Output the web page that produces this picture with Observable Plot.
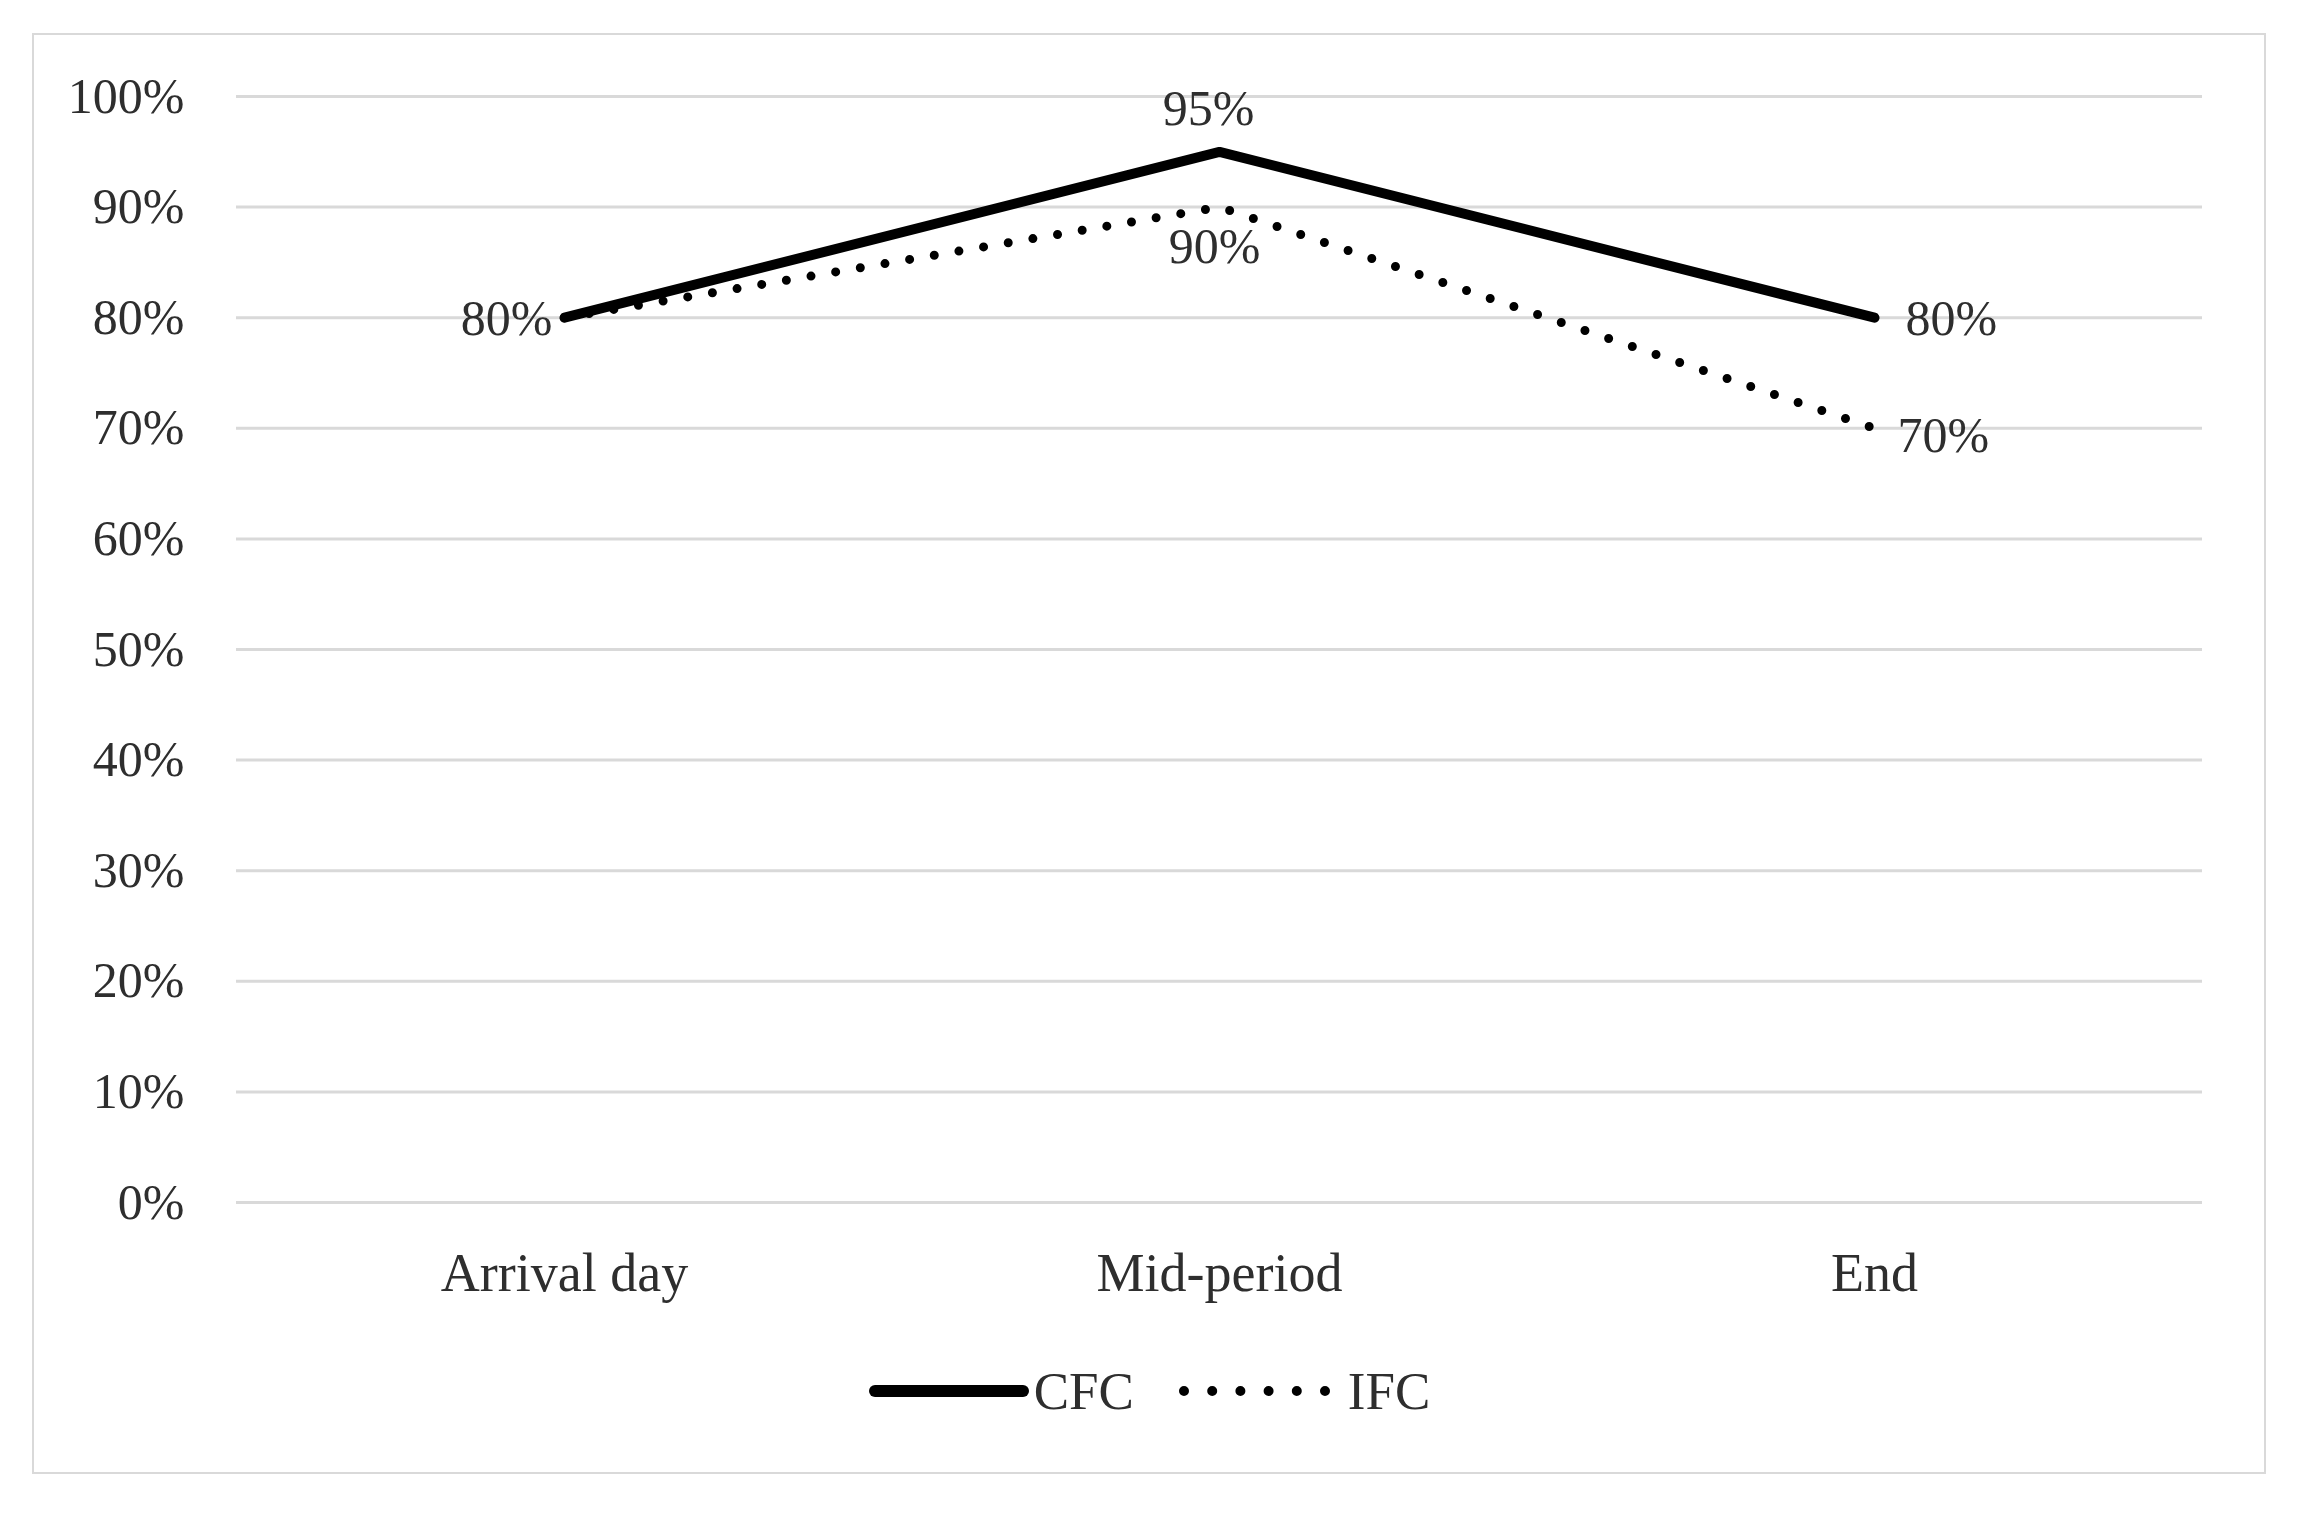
<!DOCTYPE html>
<html>
<head>
<meta charset="utf-8">
<script src="https://cdn.jsdelivr.net/npm/d3@7"></script>
<script src="https://cdn.jsdelivr.net/npm/@observablehq/plot@0.6"></script>
<style>
  html, body { margin: 0; padding: 0; background: #fff; width: 2310px; height: 1531px; overflow: hidden; }
  #box {
    position: absolute; left: 32px; top: 33px; width: 2234px; height: 1441px;
    box-sizing: border-box; border: 2px solid #d9d9d9; background: #fff;
  }
  #legend {
    display: flex; justify-content: center; align-items: center; height: 60px; margin-top: 36px;
    font-family: "Liberation Serif", serif; font-size: 53px; color: #2e2e2e;
  }
  #legend .item { display: flex; align-items: center; }
  #legend svg { display: block; }
</style>
</head>
<body>
<div id="box">
  <div id="chart"></div>
  <div id="legend"></div>
</div>
<script>
// ---- data ----
const categories = ["Arrival day", "Mid-period", "End"];
const seriesNames = ["CFC", "IFC"];
const cfcValues = [0.80, 0.95, 0.80];
const ifcValues = [0.80, 0.90, 0.70];
const yTicks = [0, 0.1, 0.2, 0.3, 0.4, 0.5, 0.6, 0.7, 0.8, 0.9, 1.0];

const cfcRows = categories.map((c, i) => ({category: c, value: cfcValues[i], series: seriesNames[0]}));
const ifcRows = categories.map((c, i) => ({category: c, value: ifcValues[i], series: seriesNames[1]}));

const fmt = d3.format(".0%");
const labelColor = "#2e2e2e";

function label(rows, idx, opts) {
  return Plot.text(rows, {
    filter: (d, i) => i === idx,
    x: "category", y: "value", text: d => fmt(d.value),
    fill: labelColor, fontSize: 50, ...opts
  });
}

const chart = Plot.plot({
  width: 2230,
  height: 1290,
  marginLeft: 202,
  marginRight: 62,
  marginTop: 61,
  marginBottom: 123,
  style: {fontFamily: "Liberation Serif, serif", fontSize: "50px", color: labelColor, background: "#fff"},
  x: {type: "point", domain: categories, padding: 0.5, label: null},
  y: {domain: [0, 1], ticks: yTicks, tickFormat: fmt, label: null},
  marks: [
    Plot.gridY(yTicks, {stroke: "#d9d9d9", strokeOpacity: 1, strokeWidth: 3}),
    Plot.axisY({ticks: yTicks, tickFormat: fmt, tickSize: 0, tickPadding: 52, fontSize: 50, label: null}),
    Plot.axisX({tickSize: 0, tickPadding: 50, fontSize: 54, label: null}),
    Plot.line(ifcRows, {x: "category", y: "value", stroke: "#000", strokeWidth: 9,
      strokeDasharray: "0 25", strokeLinecap: "round"}),
    Plot.line(cfcRows, {x: "category", y: "value", stroke: "#000", strokeWidth: 10,
      strokeLinejoin: "miter", strokeLinecap: "round"}),
    label(cfcRows, 0, {textAnchor: "end", dx: -12, dy: 1}),
    label(cfcRows, 1, {textAnchor: "middle", dx: -11, dy: -43}),
    label(cfcRows, 2, {textAnchor: "start", dx: 31, dy: 1}),
    label(ifcRows, 1, {textAnchor: "middle", dx: -5, dy: 40}),
    label(ifcRows, 2, {textAnchor: "start", dx: 23, dy: 8})
  ]
});
document.getElementById("chart").appendChild(chart);

// ---- legend ----
const legend = document.getElementById("legend");
legend.innerHTML = `
  <div class="item">
    <svg width="162" height="24"><line x1="7" y1="12" x2="155" y2="12" stroke="#000" stroke-width="12" stroke-linecap="round"/></svg>
    <span style="margin-left:4px">${seriesNames[0]}</span>
  </div>
  <div class="item" style="margin-left:44px">
    <svg width="154" height="24"><line x1="6" y1="12" x2="148" y2="12" stroke="#000" stroke-width="10" stroke-dasharray="0 28.2" stroke-linecap="round"/></svg>
    <span style="margin-left:16px">${seriesNames[1]}</span>
  </div>`;
</script>
</body>
</html>
